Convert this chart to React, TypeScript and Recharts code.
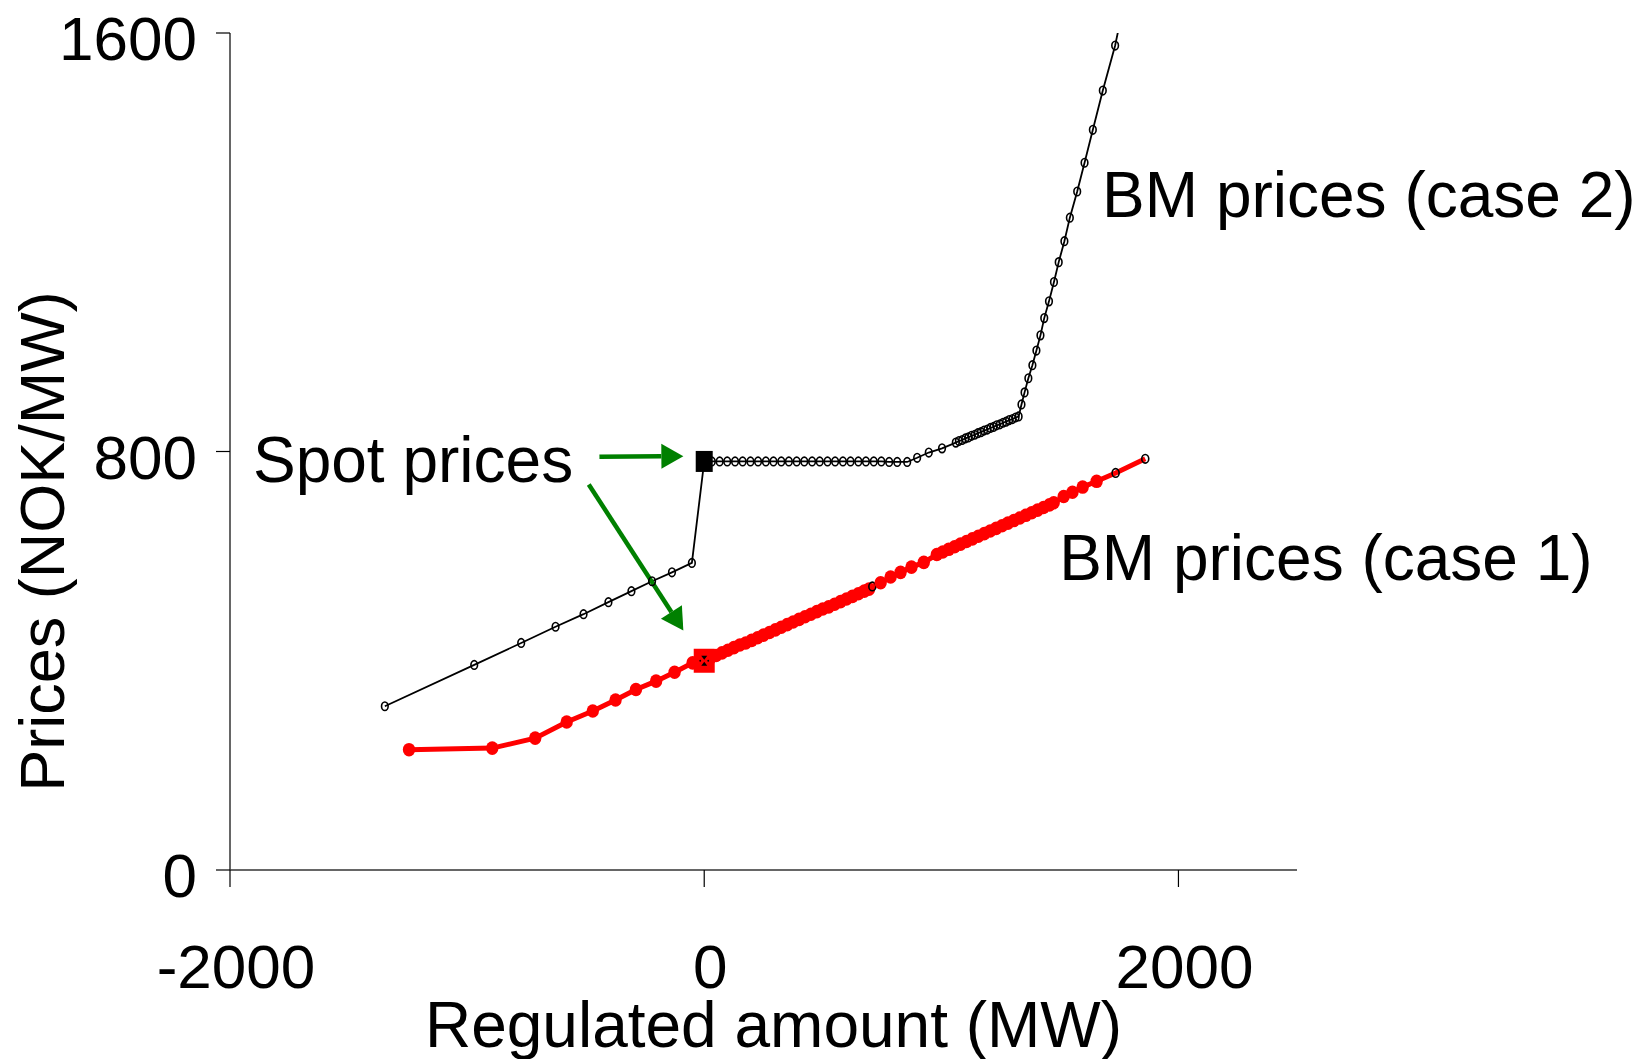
import { LineChart, Line, XAxis, YAxis, ReferenceLine, ReferenceDot, Label } from 'recharts';

const FONT = '"Liberation Sans", Arial, sans-serif';

// BM prices (case 2), black open markers
const case2Left = [[-1347, 313], [-970, 392], [-772, 434], [-627, 465], [-509, 489], [-404, 512], [-307, 533], [-220, 552], [-136, 569], [-52, 587]];
const case2Flat = [[0, 781], [32, 781], [65, 781], [97, 781], [130, 781], [162, 781], [195, 781], [227, 781], [260, 781], [292, 781], [325, 781], [357, 781], [390, 781], [422, 781], [455, 781], [487, 781], [520, 781], [552, 781], [585, 781], [617, 781], [650, 781], [682, 781], [715, 781], [747, 781], [780, 780], [814, 780]];
const case2Knee = [[856, 780], [898, 788], [947, 798], [1003, 806]];
const case2Dense = [[1061, 817], [1074, 820], [1088, 822], [1101, 825], [1114, 827], [1127, 830], [1141, 832], [1154, 835], [1167, 837], [1180, 840], [1194, 842], [1207, 845], [1220, 847], [1233, 850], [1247, 852], [1260, 855], [1273, 857], [1286, 860], [1300, 862], [1313, 865], [1326, 867]];
const case2Steep = [[1338, 890], [1351, 913], [1367, 940], [1384, 965], [1401, 993], [1418, 1022], [1434, 1055], [1454, 1087], [1475, 1124], [1495, 1162], [1519, 1202], [1542, 1247], [1573, 1297], [1604, 1352], [1639, 1415], [1681, 1490], [1733, 1576], [1754, 1622]];

// BM prices (case 1), red filled markers
const case1Left = [[-1245, 230], [-894, 233], [-713, 252], [-580, 283], [-470, 304], [-374, 325], [-288, 345], [-203, 361], [-125, 378], [-49, 396]];
const case1Dense = [[0, 400], [25, 405], [50, 410], [75, 415], [100, 420], [125, 425], [150, 430], [175, 434], [200, 439], [225, 444], [250, 449], [275, 454], [300, 459], [325, 464], [350, 469], [375, 474], [400, 479], [425, 484], [450, 489], [475, 494], [500, 499], [525, 503], [550, 508], [575, 513], [600, 518], [625, 523], [650, 528], [675, 533], [695, 537]];
const case1Mid = [[709, 542], [744, 549], [786, 560], [828, 569], [874, 579], [926, 588]];
const case1Upper = [[981, 603], [1006, 608], [1031, 613], [1056, 618], [1081, 623], [1106, 628], [1131, 633], [1156, 638], [1181, 643], [1206, 648], [1231, 653], [1256, 658], [1281, 663], [1306, 668], [1331, 673], [1356, 678], [1381, 683], [1406, 688], [1431, 693], [1456, 698], [1474, 702]];
const case1Tail = [[1516, 714], [1553, 722], [1596, 732], [1655, 743], [1735, 759], [1860, 786]];
const case1OpenMarkers = [709, 1735, 1860];

// spot price points at zero regulation
const spotCase2 = [0, 781];
const spotCase1 = [0, 400];

const xTicks = [-2000, 0, 2000];
const yTicks = [0, 800, 1600];

const toRows = (pts: number[][]) => pts.map(([x, y]) => ({ x, y }));
const case2Data = toRows([...case2Left, ...case2Flat, ...case2Knee, ...case2Dense, ...case2Steep]);
const case1Data = toRows([...case1Left, ...case1Dense, ...case1Mid, ...case1Upper, ...case1Tail]);

const OpenDot = (props: any) => {
    const { cx, cy, index, payload } = props;
    if (cx == null || payload.y > 1600) return <g key={`o-${index}`} />;
    return <ellipse key={`o-${index}`} cx={cx} cy={cy} rx={3.3} ry={4.3} fill="none" stroke="#000" strokeWidth={1.6} />;
};

const RedDot = (props: any) => {
    const { cx, cy, index, payload } = props;
    if (cx == null) return <g key={`r-${index}`} />;
    if (case1OpenMarkers.includes(payload.x)) {
        return <ellipse key={`r-${index}`} cx={cx} cy={cy} rx={3.5} ry={4.3} fill="none" stroke="#000" strokeWidth={1.6} />;
    }
    return <ellipse key={`r-${index}`} cx={cx} cy={cy} rx={6.2} ry={6.8} fill="#ff0000" />;
};

const Arrow = (props: any) => {
    const { x1, y1, x2, y2 } = props;
    const dx = x2 - x1, dy = y2 - y1;
    const len = Math.hypot(dx, dy);
    const ux = dx / len, uy = dy / len;
    const hl = 22, hw = 12.5;
    const bx = x2 - ux * hl, by = y2 - uy * hl;
    return (
        <g>
            <line x1={x1} y1={y1} x2={bx} y2={by} stroke="#008000" strokeWidth={4.5} />
            <polygon points={`${x2},${y2} ${bx - uy * hw},${by + ux * hw} ${bx + uy * hw},${by - ux * hw}`} fill="#008000" />
        </g>
    );
};

const XTick = ({ x, y, payload }: any) => (
    <text x={x + 6} y={y + 101} textAnchor="middle" fontSize={62} fontFamily={FONT} fill="#000">{payload.value}</text>
);

const YTick = ({ x, y, payload }: any) => (
    <text x={x - 19} y={y + 27} textAnchor="end" fontSize={62} fontFamily={FONT} fill="#000">{payload.value}</text>
);

const annotation = (text: string) => (p: any) => (
    <text x={p.cx} y={p.cy} fontSize={64} fontFamily={FONT} fill="#000">{text}</text>
);

export default function App() {
    return (
        <div style={{ position: 'absolute', left: 0, top: 0, background: '#fff', fontFamily: FONT }}>
            <LineChart width={1640} height={1059} margin={{ top: 33, right: 343, bottom: 0, left: 0 }}>
                <XAxis
                    type="number"
                    dataKey="x"
                    domain={[-2000, 2500]}
                    ticks={xTicks}
                    allowDataOverflow
                    height={189}
                    tickSize={17}
                    tickMargin={0}
                    tick={<XTick />}
                    axisLine={{ stroke: '#333', strokeWidth: 1.5 }}
                    tickLine={{ stroke: '#000', strokeWidth: 1.2 }}
                >
                    <Label
                        content={({ viewBox }: any) => (
                            <text x={viewBox.x + viewBox.width / 2 + 10} y={viewBox.y + 177} textAnchor="middle" fontSize={64} fontFamily={FONT} fill="#000">
                                Regulated amount (MW)
                            </text>
                        )}
                    />
                </XAxis>
                <YAxis
                    type="number"
                    dataKey="y"
                    domain={[0, 1600]}
                    ticks={yTicks}
                    allowDataOverflow
                    width={230}
                    tickSize={14}
                    tickMargin={0}
                    tick={<YTick />}
                    axisLine={{ stroke: '#333', strokeWidth: 1.5 }}
                    tickLine={{ stroke: '#000', strokeWidth: 1.2 }}
                >
                    <Label
                        content={({ viewBox }: any) => {
                            const cy = viewBox.y + viewBox.height / 2 + 90;
                            return (
                                <text x={64} y={cy} transform={`rotate(-90, 64, ${cy})`} textAnchor="middle" fontSize={63} fontFamily={FONT} fill="#000">
                                    Prices (NOK/MW)
                                </text>
                            );
                        }}
                    />
                </YAxis>
                <Line
                    data={case2Data}
                    dataKey="y"
                    stroke="#000"
                    strokeWidth={1.8}
                    dot={OpenDot}
                    activeDot={false}
                    isAnimationActive={false}
                />
                <Line
                    data={case1Data}
                    dataKey="y"
                    stroke="#ff0000"
                    strokeWidth={5}
                    dot={RedDot}
                    activeDot={false}
                    isAnimationActive={false}
                />
                <ReferenceDot
                    x={spotCase2[0]}
                    y={spotCase2[1]}
                    shape={(p: any) => <rect x={p.cx - 8.5} y={p.cy - 10.5} width={17} height={21} fill="#000" />}
                />
                <ReferenceDot
                    x={spotCase1[0]}
                    y={spotCase1[1]}
                    shape={(p: any) => (
                        <g>
                            <rect x={p.cx - 10.5} y={p.cy - 12} width={21} height={24} fill="#ff0000" />
                            <polygon points={`${p.cx - 3},${p.cy - 5} ${p.cx + 3},${p.cy - 5} ${p.cx},${p.cy - 1}`} fill="#000" />
                            <polygon points={`${p.cx - 3},${p.cy + 5} ${p.cx + 3},${p.cy + 5} ${p.cx},${p.cy + 1}`} fill="#000" />
                            <circle cx={p.cx - 4} cy={p.cy} r={0.9} fill="#000" />
                            <circle cx={p.cx + 4} cy={p.cy} r={0.9} fill="#000" />
                        </g>
                    )}
                />
                <ReferenceLine segment={[{ x: -442, y: 790 }, { x: -88, y: 791 }]} shape={Arrow} />
                <ReferenceLine segment={[{ x: -487, y: 737 }, { x: -88, y: 458 }]} shape={Arrow} />
                <ReferenceDot x={-1903} y={741} shape={annotation('Spot prices')} />
                <ReferenceDot x={1678} y={1249} shape={annotation('BM prices (case 2)')} />
                <ReferenceDot x={1497} y={554} shape={annotation('BM prices (case 1)')} />
            </LineChart>
        </div>
    );
}
